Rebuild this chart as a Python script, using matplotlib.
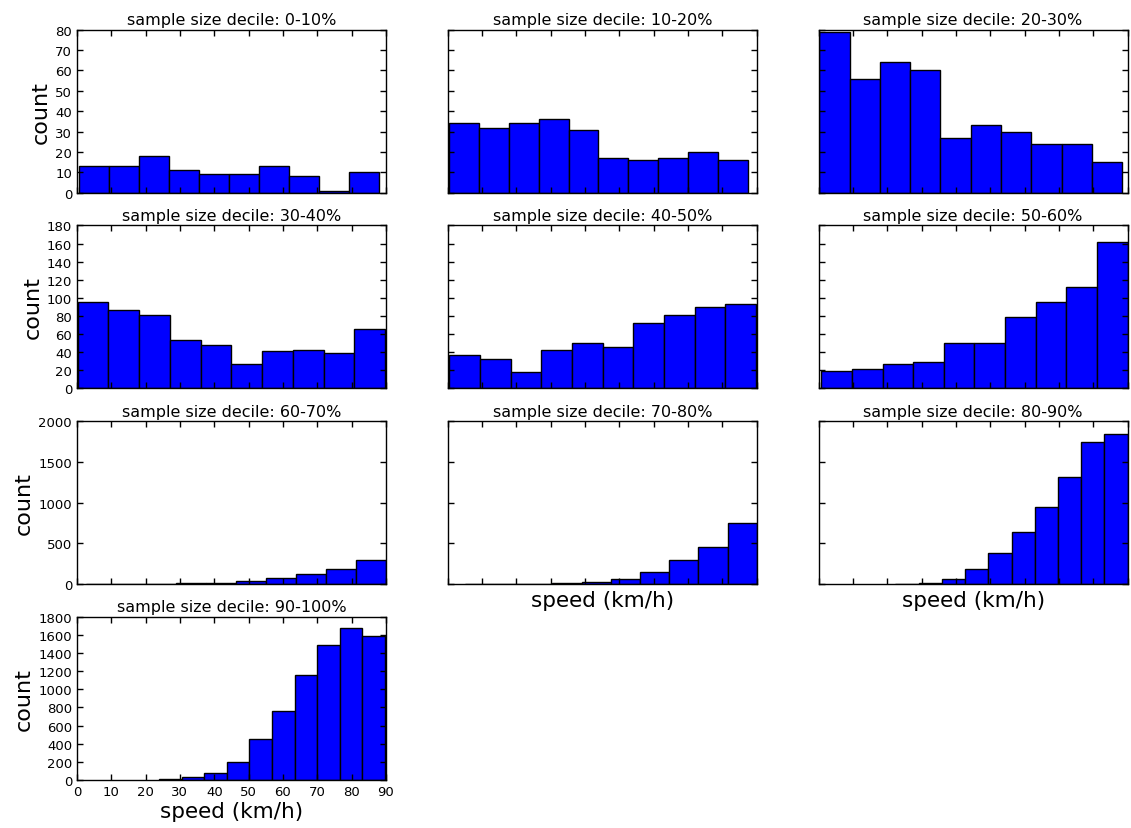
import numpy as np
import matplotlib
matplotlib.use("Agg")
import matplotlib.pyplot as plt

# Speed histograms per sample-size decile (10 equal bins spanning each decile's speed range)
decile_labels = ["0-10%", "10-20%", "20-30%", "30-40%", "40-50%",
                 "50-60%", "60-70%", "70-80%", "80-90%", "90-100%"]

speed_min = [0.5, 0.4, 0.2, 0.2, 0.4, 0.8, 2.6, 5.0, 22.4, 23.9]
speed_max = [87.9, 87.4, 88.4, 89.8, 89.8, 90.0, 90.0, 90.0, 90.0, 89.7]

counts_d1 = [13, 13, 18, 11, 9, 9, 13, 8, 1, 10]
counts_d2 = [34, 32, 34, 36, 31, 17, 16, 17, 20, 16]
counts_d3 = [79, 56, 64, 60, 27, 33, 30, 24, 24, 15]
counts_d4 = [96, 87, 81, 53, 48, 27, 41, 43, 39, 66]
counts_d5 = [37, 32, 18, 42, 50, 46, 72, 81, 90, 93]
counts_d6 = [19, 21, 27, 29, 50, 50, 79, 96, 112, 162]
counts_d7 = [2, 1, 5, 12, 20, 45, 74, 127, 184, 291]
counts_d8 = [1, 2, 4, 11, 26, 66, 150, 292, 461, 752]
counts_d9 = [4, 16, 66, 181, 387, 642, 942, 1317, 1741, 1848]
counts_d10 = [7, 29, 77, 195, 448, 757, 1161, 1484, 1679, 1587]

all_counts = [counts_d1, counts_d2, counts_d3, counts_d4, counts_d5,
              counts_d6, counts_d7, counts_d8, counts_d9, counts_d10]

row_ylim = [80, 180, 2000, 1800]
row_ystep = [10, 20, 500, 200]
x_ticks = list(range(0, 91, 10))

plt.rcParams.update({
    "font.family": "DejaVu Sans",
    "xtick.direction": "in",
    "ytick.direction": "in",
    "xtick.top": True,
    "ytick.right": True,
    "xtick.major.size": 4,
    "ytick.major.size": 4,
    "axes.linewidth": 1.0,
})

fig, axes = plt.subplots(4, 3, figsize=(11.31, 8.29), dpi=100,
                         sharex=True, sharey="row")
fig.subplots_adjust(left=0.068, right=0.997, bottom=0.058, top=0.963,
                    wspace=0.2, hspace=0.2)

for i, counts in enumerate(all_counts):
    r, c = divmod(i, 3)
    ax = axes[r, c]
    edges = np.linspace(speed_min[i], speed_max[i], len(counts) + 1)
    ax.hist(edges[:-1], bins=edges, weights=counts, color="#0000ff",
            edgecolor="black", linewidth=1.0)
    ax.set_title("sample size decile: " + decile_labels[i], fontsize=11.5, pad=4)
    ax.set_xlim(0, 90)
    ax.set_xticks(x_ticks)
    ax.set_ylim(0, row_ylim[r])
    ax.set_yticks(np.arange(0, row_ylim[r] + 1, row_ystep[r]))
    ax.tick_params(labelsize=9.5, width=1.0)
    ax.tick_params(axis="x", labelbottom=False)
    if c == 0:
        ax.set_ylabel("count", fontsize=16, labelpad=3)
    else:
        ax.tick_params(axis="y", labelleft=False)

# Bottom-most visible panel in each column gets the speed axis label
for ax in (axes[2, 1], axes[2, 2]):
    ax.set_xlabel("speed (km/h)", fontsize=15.5, labelpad=4)
axes[3, 0].tick_params(axis="x", labelbottom=True)
axes[3, 0].set_xlabel("speed (km/h)", fontsize=15.5, labelpad=2)

axes[3, 1].remove()
axes[3, 2].remove()

fig.savefig("out.png", dpi=100)
